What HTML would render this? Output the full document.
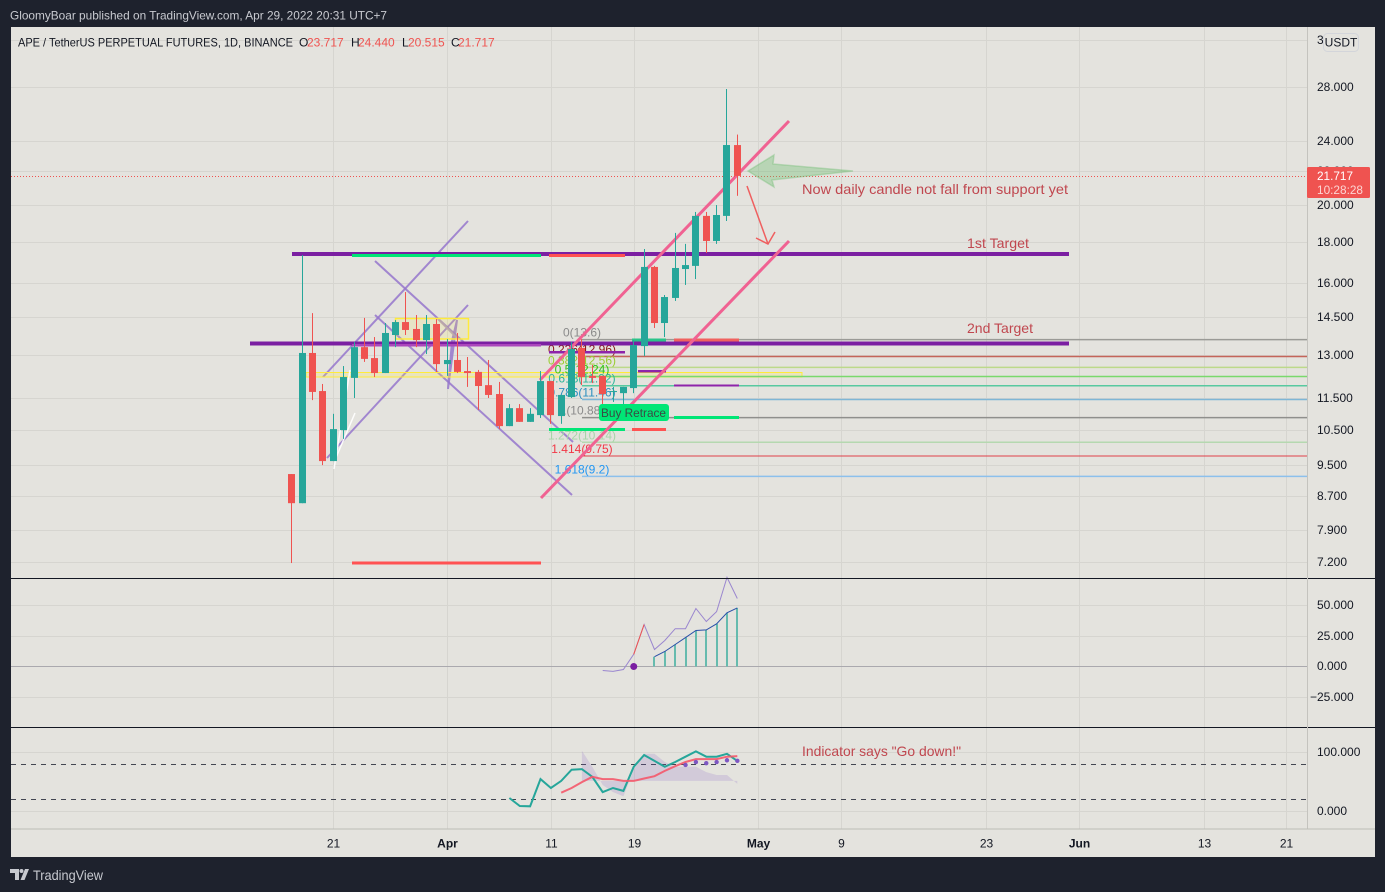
<!DOCTYPE html>
<html lang="en">
<head>
<meta charset="utf-8">
<title>APE / TetherUS chart</title>
<style>
html,body{margin:0;padding:0;background:#1e222d;}
body{width:1385px;height:892px;overflow:hidden;position:relative;font-family:"Liberation Sans",sans-serif;}
svg{position:absolute;left:0;top:0;display:block;}
text{font-family:"Liberation Sans",sans-serif;}
</style>
</head>
<body>
<svg id="c" width="1385" height="892" viewBox="0 0 1385 892">
  <rect x="0" y="0" width="1385" height="892" fill="#1e222d"/>
  <text x="10" y="19.5" font-size="12" fill="#c8cad0" textLength="377" lengthAdjust="spacingAndGlyphs">GloomyBoar published on TradingView.com, Apr 29, 2022 20:31 UTC+7</text>
  <rect x="11" y="27" width="1364" height="830" fill="#e4e3de"/>
  <g id="grid"></g>
  <g id="drawBelow">
    <g fill="none" stroke="#9575cd" stroke-width="2" stroke-opacity=".85">
      <line x1="323" y1="377" x2="468" y2="221"/>
      <line x1="327" y1="458" x2="468" y2="305"/>
      <line x1="375" y1="261" x2="573" y2="442"/>
      <line x1="375" y1="315" x2="572" y2="495"/>
      <polyline points="448,389 457,320 452,341 448,389"/>
      <line x1="438" y1="319" x2="457" y2="338" stroke="#b0a0b8"/>
    </g>
    <rect x="395.500" y="318.500" width="73" height="20.500" fill="#ffeb3b" fill-opacity=".14" stroke="#ffeb3b" stroke-width="1.500"/>
    <rect x="306" y="372.500" width="496" height="4.500" fill="#ffeb3b" fill-opacity=".2" stroke="#ffeb3b" stroke-width="1"/>
    <g stroke="#fff" stroke-width="1.500" fill="none" stroke-opacity=".9">
      <line x1="334" y1="469" x2="350" y2="370"/>
      <line x1="335" y1="460" x2="355" y2="413"/>
    </g>
    <g id="fib"></g>
    <rect x="292" y="252" width="777" height="4" fill="#7b1fa2"/>
    <rect x="250" y="341.500" width="819" height="4" fill="#7b1fa2"/>
    <rect x="352" y="344" width="189" height="2.500" fill="#ab47bc"/>
    <rect x="549" y="351" width="76" height="2.500" fill="#8e24aa"/>
    <rect x="638" y="370" width="28" height="2.500" fill="#8e24aa"/>
    <rect x="674" y="384.500" width="65" height="2" fill="#8e24aa"/>
    <rect x="352" y="254" width="189" height="3" fill="#00e676"/>
    <rect x="632" y="338.500" width="34" height="3" fill="#2bc48a"/>
    <rect x="674" y="416" width="65" height="3" fill="#00e676"/>
    <rect x="549" y="428" width="76" height="3" fill="#00e676"/>
    <rect x="549" y="254" width="76" height="3" fill="#ff5252"/>
    <rect x="674" y="338.500" width="65" height="3" fill="#f0625f"/>
    <rect x="632" y="428" width="34" height="3" fill="#ff5252"/>
    <rect x="352" y="561.500" width="189" height="3" fill="#ff5252"/>
    <line x1="540" y1="380" x2="789" y2="121" stroke="#f06292" stroke-width="3"/>
    <line x1="541" y1="498" x2="789" y2="241" stroke="#f06292" stroke-width="3"/>
    <line x1="11" x2="1307" y1="176.500" y2="176.500" stroke="#ef5350" stroke-width="1" stroke-dasharray="1 2"/>
  </g>
  <g id="candles"></g>
  <g>
    <polygon points="748,171 774,155 773,164 853,171 772,180 774,187" fill="#66bb6a" fill-opacity=".35" stroke="#66bb6a" stroke-opacity=".35" stroke-width="1.500"/>
    <polyline points="747,186 768,244" fill="none" stroke="#ef5f5f" stroke-width="1.500"/>
    <polyline points="756,238 768,244 775,232" fill="none" stroke="#ef5f5f" stroke-width="1.500"/>
    <text x="802" y="194" font-size="14" fill="#c0474f" textLength="266" lengthAdjust="spacingAndGlyphs">Now daily candle not fall from support yet</text>
    <text x="967" y="248" font-size="14" fill="#c0474f" textLength="62" lengthAdjust="spacingAndGlyphs">1st Target</text>
    <text x="967" y="333" font-size="14" fill="#c0474f" textLength="66" lengthAdjust="spacingAndGlyphs">2nd Target</text>
    <rect x="599" y="404" width="70" height="17" rx="3" fill="#00e676"/>
    <text x="601" y="417" font-size="12" fill="#3a4a44" textLength="65" lengthAdjust="spacingAndGlyphs">Buy Retrace</text>
  </g>
  <g id="osc1"></g>
  <g id="osc2"></g>
  <text x="802" y="756" font-size="14" fill="#c0474f" textLength="159" lengthAdjust="spacingAndGlyphs">Indicator says "Go down!"</text>
  <g>
    <rect x="11" y="578" width="1364" height="1" fill="#131722"/>
    <rect x="11" y="727" width="1364" height="1" fill="#131722"/>
    <rect x="1307" y="27" width="1" height="802" fill="#c4c3be"/>
    <rect x="11" y="828.500" width="1364" height="1" fill="#bdbcb7"/>
  </g>
  <g id="axisText"></g>
  <g>
    <text x="18" y="46.500" font-size="12" fill="#131722" textLength="275" lengthAdjust="spacingAndGlyphs">APE / TetherUS PERPETUAL FUTURES, 1D, BINANCE</text>
    <text x="299" y="46.500" font-size="12" fill="#131722">O</text>
    <text x="307" y="46.500" font-size="12" fill="#ef5350">23.717</text>
    <text x="351" y="46.500" font-size="12" fill="#131722">H</text>
    <text x="358" y="46.500" font-size="12" fill="#ef5350">24.440</text>
    <text x="402" y="46.500" font-size="12" fill="#131722">L</text>
    <text x="408" y="46.500" font-size="12" fill="#ef5350">20.515</text>
    <text x="451" y="46.500" font-size="12" fill="#131722">C</text>
    <text x="458" y="46.500" font-size="12" fill="#ef5350">21.717</text>
  </g>
  <rect x="1323.500" y="33.500" width="35" height="18" rx="4" fill="#e4e3de" stroke="#d3d5da"/>
  <text x="1341" y="46.500" font-size="12" text-anchor="middle" fill="#131722">USDT</text>
  <rect x="1307" y="167" width="63" height="31" rx="1.500" fill="#ef5350"/>
  <text x="1317" y="180" font-size="12" fill="#fff" textLength="36" lengthAdjust="spacingAndGlyphs">21.717</text>
  <text x="1317" y="194" font-size="12" fill="#fcd4d2" textLength="46" lengthAdjust="spacingAndGlyphs">10:28:28</text>
  <g>
    <path d="M10 869h9v11h-4v-7h-5z" fill="#c8cad0"/>
    <circle cx="21.500" cy="871" r="2" fill="#c8cad0"/>
    <path d="M25 869h4l-4.500 11h-4z" fill="#c8cad0"/>
    <text x="33" y="880" font-size="14" fill="#c8cad0" textLength="70" lengthAdjust="spacingAndGlyphs">TradingView</text>
  </g>
</svg>
<script>
var candleDays = [-4,-3,-2,-1,0,1,2,3,4,5,6,7,8,9,10,11,12,13,14,15,16,17,18,19,20,21,22,23,24,25,26,27,28,29,30,31,32,33,34,35,36,37,38,39];
var opens  = [9.26,8.52,13.09,11.74,9.61,10.50,12.19,13.31,12.90,12.36,13.78,14.30,14.02,13.58,14.22,12.68,12.83,12.43,12.40,11.94,11.64,10.62,11.18,10.75,10.96,12.08,10.93,11.54,13.28,12.26,12.26,11.71,11.67,11.84,13.35,16.74,14.26,15.32,16.64,16.79,19.37,18.03,19.37,23.717];
var highs  = [9.26,17.32,14.67,11.98,11.00,12.61,13.51,14.47,13.70,14.26,14.38,15.58,14.59,14.59,14.42,13.62,13.86,12.94,12.47,12.83,12.05,11.31,11.31,11.18,12.43,12.08,11.61,13.51,13.62,12.65,12.26,11.88,11.88,13.58,17.62,16.79,15.45,18.45,17.88,19.59,19.59,19.98,27.84,24.44];
var lows   = [7.18,8.52,11.44,9.50,9.61,10.24,11.51,12.76,12.22,12.36,13.31,13.78,13.31,13.05,12.40,12.26,12.36,11.88,11.12,11.51,10.53,10.62,10.75,10.75,10.87,10.69,10.69,11.51,11.94,12.01,11.28,11.38,11.03,11.67,12.98,14.06,13.70,15.19,15.90,16.17,17.42,17.88,19.09,20.515];
var closes = [8.52,13.09,11.71,9.61,10.53,12.22,13.31,12.87,12.36,13.86,14.30,13.98,13.58,14.22,12.68,12.83,12.40,12.36,11.91,11.61,10.62,11.18,10.75,11.00,12.08,10.96,11.61,13.24,12.22,12.19,11.64,11.74,11.88,13.39,16.74,14.26,15.36,16.69,16.83,19.37,18.03,19.42,23.72,21.717];

var priceTicks = [32,28,24,22,20,18,16,14.5,13,11.5,10.5,9.5,8.7,7.9,7.2];
var timeTickDays = [0,11,21,29,41,49,63,72,84,92];
var timeTickLabels = ["21","Apr","11","19","May","9","23","Jun","13","21"];
var timeTickStrong = ["Apr","May","Jun"];

var fibRatios = ["0","0.236","0.382","0.5","0.618","0.786","1","1.272","1.414","1.618"];
var fibPrices = [13.6,12.96,12.56,12.24,11.92,11.46,10.88,10.14,9.75,9.2];
var fibLineColors = ["#9a9a96","#c4655a","#bcd98a","#79d96c","#58c9a0","#7fb6d6","#8f8f8c","#b5d8b0","#e0404a","#8cc0ec"];
var fibTextColors = ["#8a8a8a","#8b1a1a","#9acd32","#2ec41b","#2cb59a","#2a8fc0","#8a8a8a","#a5d6a7","#f23645","#2196f3"];

var momDays = [26,27,28,29,30,31,32,33,34,35,36,37,38,39];
var momValues = [-3.3,-4,-2.5,10,34.4,13.9,21.3,31,31,47.5,36.9,45,73,55.7];
var histDays = [31,32,33,34,35,36,37,38,39];
var histValues = [8,12.3,18,23.7,29.5,30,35,44,48];
var momTicks = [50,25,0,-25];

var stochDays = [17,18,19,20,21,22,23,24,25,26,27,28,29,30,31,32,33,34,35,36,37,38,39];
var stochK = [22,8.5,8,54,39,51,70,71,58,32,39,34,75,95,85,75,83,92,101,92,92,97,85];
var signalDays = [22,23,24,25,26,27,28,29,30,31,32,33,34,35,36,37,38,39];
var signalD = [31,39,49,58,54,54,51,51,55,59,68,76,83,88,88,88,92,93];
var dotDays = [34,35,36,37,38,39];
var dotValues = [78,83,81,83,86,85];
var bandDays = [24,25,26,27,28,29,30,31,32,33,34,35,36,37,38,39];
var bandUpper = [102,75,44,32,25,70,97,97,83,75,75,75,66,61,61,46];
var bandBase = 51;
var stochTicks = [100,0];
var stochLevels = [80,20];

var NS = "http://www.w3.org/2000/svg";
function xAt(d){ return 333.3 + 10.36 * d; }
function yPrice(p){ return 87 + Math.log(28 / p) * 349.8; }
function yMom(v){ return 666.5 - v * 1.22; }
function yStoch(v){ return 811 - v * 0.59; }
function fmt(v){ return v.toFixed(3).replace("-", "\u2212"); }
function mk(parent, tag, attrs){
  var e = document.createElementNS(NS, tag);
  for (var k in attrs) e.setAttribute(k, attrs[k]);
  parent.appendChild(e);
  return e;
}
var grid = document.getElementById("grid");
var axisText = document.getElementById("axisText");

timeTickDays.forEach(function(d, i){
  var px = Math.round(xAt(d)) + 0.5;
  var l = mk(grid, "line", {x1:px, x2:px, y1:27, y2:829, stroke:"#d6d5d0", "stroke-width":1});
  
  
  var strong = timeTickStrong.indexOf(timeTickLabels[i]) >= 0;
  var t = mk(axisText, "text", {x:px, y:847.5, "font-size":12, "text-anchor":"middle", fill:"#131722", "font-weight":strong ? "bold" : "normal"});
  t.textContent = timeTickLabels[i];
  
  
});
priceTicks.forEach(function(p){
  var py = Math.round(yPrice(p)) + 0.5;
  var l = mk(grid, "line", {x1:11, x2:1307, y1:py, y2:py, stroke:"#d6d5d0", "stroke-width":1});
  
  
  var label = p.toFixed(3);
  var t = mk(axisText, "text", {x:1317, y:py + 3.5, "font-size":12, fill:"#131722"});
  t.textContent = label;
  
  
});

var fib = document.getElementById("fib");
fibPrices.forEach(function(p, i){
  var py = yPrice(p);
  var l = mk(fib, "line", {x1:582, x2:1307, y1:py, y2:py, stroke:fibLineColors[i], "stroke-width":i === 8 ? 1 : 1.5});
  
  
  var t = mk(fib, "text", {x:582, y:py - 3, "font-size":12, "text-anchor":"middle", fill:fibTextColors[i]});
  t.textContent = fibRatios[i] + "(" + p + ")";
  
  
});

var cg = document.getElementById("candles");
candleDays.forEach(function(d, i){
  var cx = Math.floor(xAt(d));
  var up = closes[i] >= opens[i];
  var col = up ? "#26a69a" : "#ef5350";
  var w = mk(cg, "rect", {x:cx, y:yPrice(highs[i]), width:1, height:yPrice(lows[i]) - yPrice(highs[i]), fill:col});
  
  
  var top = yPrice(Math.max(opens[i], closes[i]));
  var bot = yPrice(Math.min(opens[i], closes[i]));
  var b = mk(cg, "rect", {x:cx - 3, y:top, width:7, height:Math.max(1, bot - top), fill:col});
  
  
});

var o1 = document.getElementById("osc1");
momTicks.forEach(function(v){
  var py = Math.floor(yMom(v)) + 0.5;
  var l = mk(o1, "line", {x1:11, x2:1307, y1:py, y2:py, stroke:v === 0 ? "#aaa9ae" : "#d6d5d0", "stroke-width":1});
  
  
  var t = mk(axisText, "text", {x:v < 0 ? 1310 : 1317, y:py + 3.5, "font-size":12, fill:"#131722"});
  t.textContent = fmt(v);
  
  
});
histDays.forEach(function(d, i){
  var top = yMom(histValues[i]);
  var b = mk(o1, "rect", {x:Math.round(xAt(d)) - 1, y:top, width:2, height:yMom(0) - top, fill:"#66bbae"});
  
  
});
function pts(days, vals, yf){
  return days.map(function(d, i){ return xAt(d).toFixed(1) + "," + yf(vals[i]).toFixed(1); }).join(" ");
}
var hl = mk(o1, "polyline", {points:pts(histDays, histValues, yMom), fill:"none", stroke:"#2a4fa8", "stroke-width":1});


var ml = mk(o1, "polyline", {points:pts(momDays, momValues, yMom), fill:"none", stroke:"#9a86cf", "stroke-width":1});


var redSeg = mk(o1, "line", {x1:xAt(momDays[3]), y1:yMom(momValues[3]), x2:xAt(momDays[4]), y2:yMom(momValues[4]), stroke:"#ef5350", "stroke-width":1});


var dot = mk(o1, "circle", {cx:xAt(29), cy:yMom(0), r:3.5, fill:"#7b1fa2"});



var o2 = document.getElementById("osc2");
stochTicks.forEach(function(v){
  var py = Math.round(yStoch(v)) + 0.5;
  var l = mk(o2, "line", {x1:11, x2:1307, y1:py, y2:py, stroke:"#d6d5d0", "stroke-width":1});
  
  
  var t = mk(axisText, "text", {x:1317, y:py + 3.5, "font-size":12, fill:"#131722"});
  t.textContent = v.toFixed(3);
  
  
});
stochLevels.forEach(function(v){
  var py = Math.round(yStoch(v)) + 0.5;
  var l = mk(o2, "line", {x1:11, x2:1307, y1:py, y2:py, stroke:"#434651", "stroke-width":1, "stroke-dasharray":"5 5"});
  
  
});
var bandPts = pts(bandDays, bandUpper, yStoch) + " " + xAt(bandDays[bandDays.length - 1]).toFixed(1) + "," + yStoch(bandBase).toFixed(1) + " " + xAt(bandDays[0]).toFixed(1) + "," + yStoch(bandBase).toFixed(1);
var band = mk(o2, "polygon", {points:bandPts, fill:"#7e57c2", "fill-opacity":".18"});


var kl = mk(o2, "polyline", {points:pts(stochDays, stochK, yStoch), fill:"none", stroke:"#26a69a", "stroke-width":2});


var dl = mk(o2, "polyline", {points:pts(signalDays, signalD, yStoch), fill:"none", stroke:"#f4586a", "stroke-width":2, "stroke-opacity":".9"});


dotDays.forEach(function(d, i){
  var c = mk(o2, "circle", {cx:xAt(d), cy:yStoch(dotValues[i]), r:2.2, fill:"#7e57c2"});
  
  
});
</script>
</body>
</html>
